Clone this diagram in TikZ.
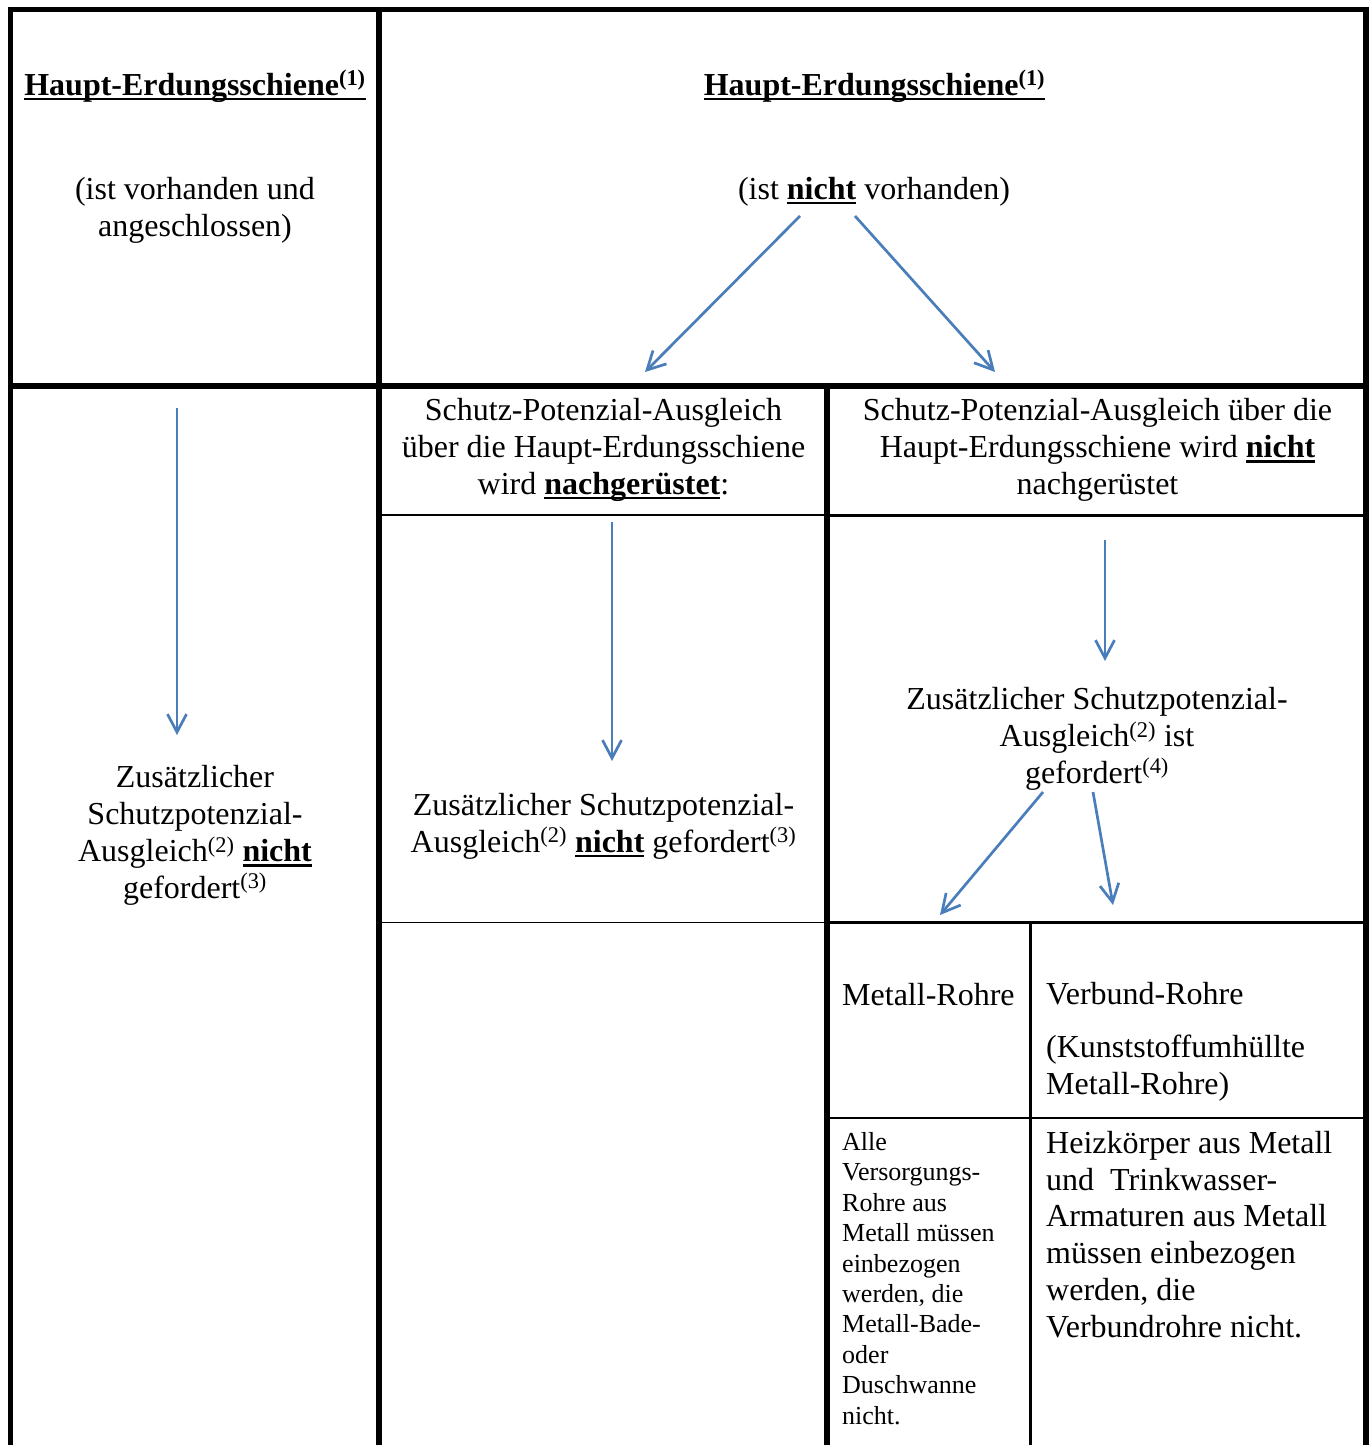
\documentclass[tikz,border=0pt]{standalone}
\usepackage{fontspec}
\setmainfont{Liberation Serif}
\usetikzlibrary{arrows.meta}
\definecolor{pfeilblau}{RGB}{74,126,187}
\newcommand{\unterstr}[1]{\setbox0\hbox{#1}\rlap{\rule[-0.17em]{\wd0}{0.085em}}\box0\relax}

\begin{document}
\begin{tikzpicture}[x=1pt,y=-1pt,
	dick/.style={line width=5.5pt},
	duenn/.style={line width=1.5pt},
	mittel/.style={line width=2.3pt},
	pfeil/.style={draw=pfeilblau,line width=2.7pt,-{Straight Barb[length=18pt,width=19pt]}},
	txt/.style={inner sep=0pt,align=center,font=\fontsize{32}{36.7}\selectfont},
	klein/.style={inner sep=0pt,align=left,font=\fontsize{26}{30.4}\selectfont}]
						\useasboundingbox (0,0) rectangle (1369,1445);
						% Rahmen
						\draw [dick] (10.3,1445) -- (10.3,9.7) -- (1365.8,9.7) -- (1365.8,1445);
						\draw [dick] (379.2,9.7) -- (379.2,1445);
						\draw [dick] (10.3,386) -- (1365.8,386);
						\draw [dick] (827,386) -- (827,1445);
						\draw [duenn] (379.2,515) -- (827,515);
						\draw [mittel] (827,515.5) -- (1365.8,515.5);
						\draw [duenn] (379.2,922.5) -- (827,922.5);
						\draw [mittel] (827,922.5) -- (1365.8,922.5);
						\draw [mittel] (1030.5,922.5) -- (1030.5,1445);
						\draw [mittel] (827,1118) -- (1365.8,1118);
						% Texte (base = letzte Zeile)
						\node [txt,anchor=base] (hesL) at (195,95) {\unterstr{\textbf{Haupt-Erdungsschiene\textsuperscript{(1)}}}};
						\node [txt,anchor=base] (hesR) at (874.5,95) {\unterstr{\textbf{Haupt-Erdungsschiene\textsuperscript{(1)}}}};
						\node [txt,anchor=base] (vorh) at (195,236) {(ist vorhanden und\\angeschlossen)};
						\node [txt,anchor=base] (nvorh) at (874,199) {(ist \unterstr{\textbf{nicht}} vorhanden)};
						\node [txt,anchor=base] (spaA) at (603.5,494) {Schutz-Potenzial-Ausgleich\\über die Haupt-Erdungsschiene\\wird \unterstr{\textbf{nachgerüstet}}:};
						\node [txt,anchor=base] (spaB) at (1097.5,494) {Schutz-Potenzial-Ausgleich über die\\Haupt-Erdungsschiene wird \unterstr{\textbf{nicht}}\\nachgerüstet};
						\node [txt,anchor=base] (zusL) at (195,898) {Zusätzlicher\\Schutzpotenzial-\\Ausgleich\textsuperscript{(2)} \unterstr{\textbf{nicht}}\\gefordert\textsuperscript{(3)}};
						\node [txt,anchor=base] (zusM) at (603.5,852) {Zusätzlicher Schutzpotenzial-\\Ausgleich\textsuperscript{(2)} \unterstr{\textbf{nicht}} gefordert\textsuperscript{(3)}};
						\node [txt,anchor=base] (zusR) at (1097,783) {Zusätzlicher Schutzpotenzial-\\Ausgleich\textsuperscript{(2)} ist\\gefordert\textsuperscript{(4)}};
						\node [txt,anchor=base west] (metall) at (842,1005) {Metall-Rohre};
						\node [txt,anchor=base west,align=left] (verbund) at (1046,1094) {Verbund-Rohre\\[16pt](Kunststoffumhüllte\\Metall-Rohre)};
						\node [klein,anchor=base west] (alle) at (842,1424) {Alle\\Versorgungs-\\Rohre aus\\Metall müssen\\einbezogen\\werden, die\\Metall-Bade-\\oder\\Duschwanne\\nicht.};
						\node [txt,anchor=base west,align=left] (heiz) at (1046,1337) {Heizkörper aus Metall\\und \ Trinkwasser-\\Armaturen aus Metall\\müssen einbezogen\\werden, die\\Verbundrohre nicht.};
						% Pfeile
						\coordinate (pL1) at (177,408);
						\coordinate (pL2) at (177,735);
						\coordinate (pA1) at (800,216);
						\coordinate (pA2) at (645,372);
						\coordinate (pB1) at (855,216);
						\coordinate (pB2) at (995,372);
						\coordinate (pM1) at (612,522);
						\coordinate (pM2) at (612,761);
						\coordinate (pR1) at (1105,540);
						\coordinate (pR2) at (1105,661);
						\coordinate (pC1) at (1043,792);
						\coordinate (pC2) at (940,915);
						\coordinate (pD1) at (1093,792);
						\coordinate (pD2) at (1113,905);
						\draw [pfeil] (pL1) -- (pL2);
						\draw [pfeil] (pA1) -- (pA2);
						\draw [pfeil] (pB1) -- (pB2);
						\draw [pfeil] (pM1) -- (pM2);
						\draw [pfeil] (pR1) -- (pR2);
						\draw [pfeil] (pC1) -- (pC2);
						\draw [pfeil] (pD1) -- (pD2);
\end{tikzpicture}
\end{document}
